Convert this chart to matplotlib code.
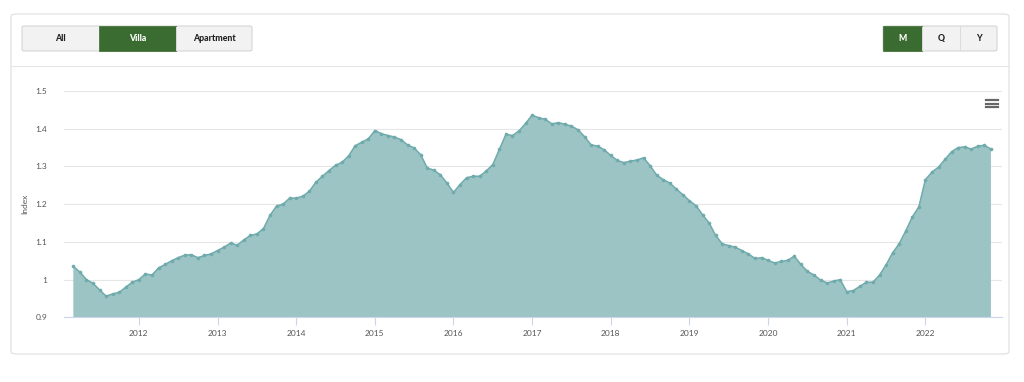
import matplotlib
matplotlib.use("Agg")
import matplotlib.pyplot as plt
from matplotlib.patches import FancyBboxPatch, Rectangle
from matplotlib.lines import Line2D
import pandas as pd

plt.rcParams['font.family'] = ['Lato', 'DejaVu Sans']

# monthly villa index, Mar 2011 - Nov 2022
index_values = [
    1.035, 1.020, 1.000, 0.990, 0.973, 0.956, 0.962, 0.966, 0.980, 0.993,
    1.000, 1.015, 1.012, 1.031, 1.040, 1.050, 1.058, 1.065, 1.066, 1.058,
    1.064, 1.068, 1.077, 1.086, 1.097, 1.091, 1.105, 1.117, 1.121, 1.135,
    1.170, 1.195, 1.200, 1.216, 1.216, 1.221, 1.234, 1.258, 1.274, 1.289,
    1.303, 1.311, 1.328, 1.355, 1.364, 1.373, 1.395, 1.387, 1.382, 1.378,
    1.371, 1.357, 1.349, 1.331, 1.296, 1.290, 1.278, 1.256, 1.231, 1.252,
    1.270, 1.274, 1.274, 1.288, 1.305, 1.345, 1.385, 1.382, 1.394, 1.414,
    1.436, 1.429, 1.425, 1.413, 1.416, 1.412, 1.407, 1.397, 1.379, 1.357,
    1.354, 1.344, 1.329, 1.316, 1.310, 1.314, 1.317, 1.323, 1.302, 1.277,
    1.265, 1.256, 1.240, 1.225, 1.209, 1.196, 1.172, 1.150, 1.117, 1.095,
    1.090, 1.086, 1.077, 1.068, 1.056, 1.058, 1.051, 1.044, 1.048, 1.051,
    1.062, 1.040, 1.022, 1.012, 0.999, 0.991, 0.996, 1.000, 0.968, 0.971,
    0.982, 0.993, 0.993, 1.012, 1.039, 1.071, 1.095, 1.129, 1.166, 1.193,
    1.265, 1.285, 1.298, 1.319, 1.339, 1.350, 1.352, 1.346, 1.354, 1.356,
    1.346,
]
start_month = '2011-03-01'
year_ticks = list(range(2012, 2023))
y_ticks = [0.9, 1.0, 1.1, 1.2, 1.3, 1.4, 1.5]
y_tick_labels = ['0.9', '1', '1.1', '1.2', '1.3', '1.4', '1.5']
type_buttons = ['All', 'Villa', 'Apartment']
period_buttons = ['M', 'Q', 'Y']

dates = pd.date_range(start_month, periods=len(index_values), freq='MS')
x = dates.year + (dates.month - 1) / 12.0

W, H = 1024, 382
fig = plt.figure(figsize=(W / 100, H / 100), dpi=100)
fig.patch.set_facecolor('white')


def fx(px):
    return px / W


def fy(py):
    return 1 - py / H


green = '#3a6b30'
light = '#f2f2f2'
edge = '#d0d0d0'

# card
card = FancyBboxPatch((fx(11), fy(354)), fx(1009) - fx(11), fy(14) - fy(354),
                      boxstyle='round,pad=0,rounding_size=0.006',
                      transform=fig.transFigure, facecolor='white',
                      edgecolor='#dedede', linewidth=0.8, zorder=-5)
fig.patches.append(card)
fig.lines.append(Line2D([fx(11), fx(1009)], [fy(66), fy(66)],
                        transform=fig.transFigure, color='#e6e6e6', lw=0.8))


def button_group(x0, widths, labels, active):
    total = sum(widths)
    grp = FancyBboxPatch((fx(x0), fy(51)), fx(total), fy(26) - fy(51),
                         boxstyle='round,pad=0,rounding_size=0.003',
                         transform=fig.transFigure, facecolor=light,
                         edgecolor=edge, linewidth=0.7)
    fig.patches.append(grp)
    left = x0
    for w, lab in zip(widths, labels):
        if lab == active:
            fig.patches.append(Rectangle((fx(left), fy(51)), fx(w), fy(26) - fy(51),
                                         transform=fig.transFigure,
                                         facecolor=green, edgecolor=green, lw=0.5))
        elif left != x0:
            fig.lines.append(Line2D([fx(left), fx(left)], [fy(27), fy(50)],
                                    transform=fig.transFigure, color='#dcdcdc', lw=0.7))
        fig.text(fx(left + w / 2), fy(38.5), lab, ha='center', va='center',
                 fontsize=6.3, fontweight='black',
                 color='white' if lab == active else '#222222')
        left += w


button_group(22, [77, 77, 76], type_buttons, 'Villa')
button_group(883, [39, 38, 37], period_buttons, 'M')

# chart area
ax = fig.add_axes([fx(64), fy(317.3), fx(1001.7) - fx(64), fy(91) - fy(317.3)])
ax.set_zorder(2)
ax.set_facecolor('none')
ax.fill_between(x, index_values, 0, color='#9dc4c5', lw=0)
ax.plot(x, index_values, color='#6fabac', lw=1.1, marker='o', markersize=2.6,
        markeredgewidth=0)

ax.set_xlim(2011.048, 2022.97)
ax.set_ylim(0.9, 1.5)
ax.set_yticks(y_ticks)
ax.set_yticklabels(y_tick_labels)
ax.set_xticks(year_ticks)
ax.set_xticklabels([str(y) for y in year_ticks])
ax.grid(axis='y', color='#e6e6e6', lw=0.8)
ax.set_axisbelow(True)
for side in ['top', 'right', 'left']:
    ax.spines[side].set_visible(False)
ax.spines['bottom'].set_color('#ccd6eb')
ax.spines['bottom'].set_linewidth(0.8)
ax.tick_params(axis='x', length=6, color='#ccd6eb', width=0.8, pad=3,
               labelsize=6, labelcolor='#555555')
ax.tick_params(axis='y', length=0, pad=12, labelsize=6, labelcolor='#555555')
ax.set_ylabel('Index', fontsize=6, color='#555555', labelpad=5)

# context menu icon
for yy in [100, 103.5, 107]:
    fig.lines.append(Line2D([fx(986), fx(998)], [fy(yy), fy(yy)],
                            transform=fig.transFigure, color='#666666', lw=1.6))

fig.savefig('out.png', dpi=100)
